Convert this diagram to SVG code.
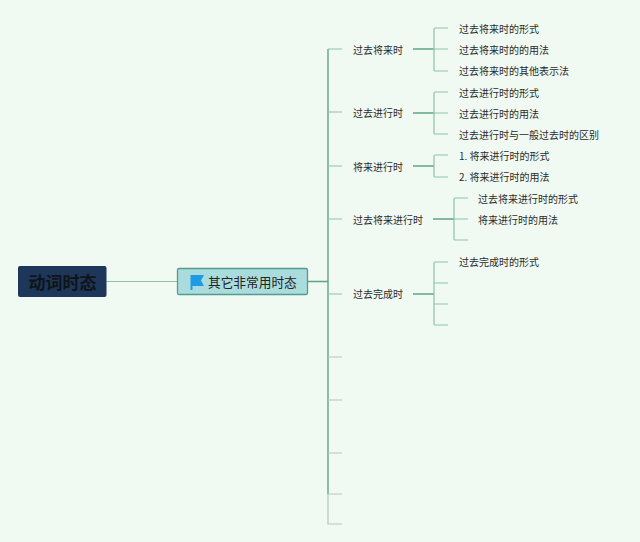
<svg xmlns="http://www.w3.org/2000/svg" width="640" height="542" viewBox="0 0 640 542">
<style>
text{font-family:"Noto Sans CJK SC","Liberation Sans",sans-serif;fill:#2a2a2a;font-size:10px}
.c{fill:none;stroke:#8cc4a8;stroke-width:1.200}
.d{fill:none;stroke:#5fa486;stroke-width:1.400}
.e{fill:none;stroke:#b4c6bb;stroke-width:1.200}
</style>
<rect width="640" height="542" fill="#f0faf3"/>
<g id="connectors">
<path class="c" d="M106 281.500H177"/>
<path class="d" d="M307 281.500H328M328 49V494"/>
<path class="e" d="M328 494V524H342"/>
<path class="c" d="M328 49H342M328 112H342M328 166H342M328 219H342M328 294H342"/>
<path class="e" d="M328 357H342M328 400H342M328 453H342M328 494H342"/>
<path class="d" d="M413 49H434M413 113H434M413 166H434M433 219H454M413 294H434"/>
<path class="c" d="M448 28H435Q434 28 434 29V70Q434 71 435 71H448M434 49H448"/>
<path class="c" d="M448 92H435Q434 92 434 93V133Q434 134 435 134H448M434 113H448"/>
<path class="c" d="M448 155H435Q434 155 434 156V176Q434 177 435 177H448"/>
<path class="c" d="M468 198H455Q454 198 454 199V239Q454 240 455 240H468M454 219H468"/>
<path class="c" d="M448 262H435Q434 262 434 263V324Q434 325 435 325H448M434 283H448M434 304H448"/>
</g>
<g id="root"><rect x="18" y="266" width="88.500" height="31" rx="2" fill="#1d3659"/><text x="62.500" y="288.500" text-anchor="middle" style="font-size:17px;font-weight:700;fill:#0f1418">动词时态</text></g>
<g id="center"><rect x="177.500" y="268.500" width="130" height="26" rx="1.500" fill="#abdcdd" stroke="#4f9c90" stroke-width="1.300"/>
<path d="M190.500 275H204L201 280.500L204 286H192.500V290H190.500Z" fill="#1f9be6"/>
<text x="208" y="287" style="font-size:12.700px;fill:#222">其它非常用时态</text></g>
<g id="n1"><text x="353" y="53.500">过去将来时</text></g>
<g id="n1a"><text x="459" y="33">过去将来时的形式</text></g>
<g id="n1b"><text x="459" y="53.500">过去将来时的的用法</text></g>
<g id="n1c"><text x="459" y="75">过去将来时的其他表示法</text></g>
<g id="n2"><text x="353" y="117">过去进行时</text></g>
<g id="n2a"><text x="459" y="96.500">过去进行时的形式</text></g>
<g id="n2b"><text x="459" y="117.500">过去进行时的用法</text></g>
<g id="n2c"><text x="459" y="139">过去进行时与一般过去时的区别</text></g>
<g id="n3"><text x="353" y="170.500">将来进行时</text></g>
<g id="n3a"><text x="459" y="160">1. 将来进行时的形式</text></g>
<g id="n3b"><text x="459" y="181">2. 将来进行时的用法</text></g>
<g id="n4"><text x="353" y="223.500">过去将来进行时</text></g>
<g id="n4a"><text x="478" y="202.500">过去将来进行时的形式</text></g>
<g id="n4b"><text x="478" y="223.500">将来进行时的用法</text></g>
<g id="n5"><text x="353" y="298">过去完成时</text></g>
<g id="n5a"><text x="459" y="266">过去完成时的形式</text></g>
</svg>
